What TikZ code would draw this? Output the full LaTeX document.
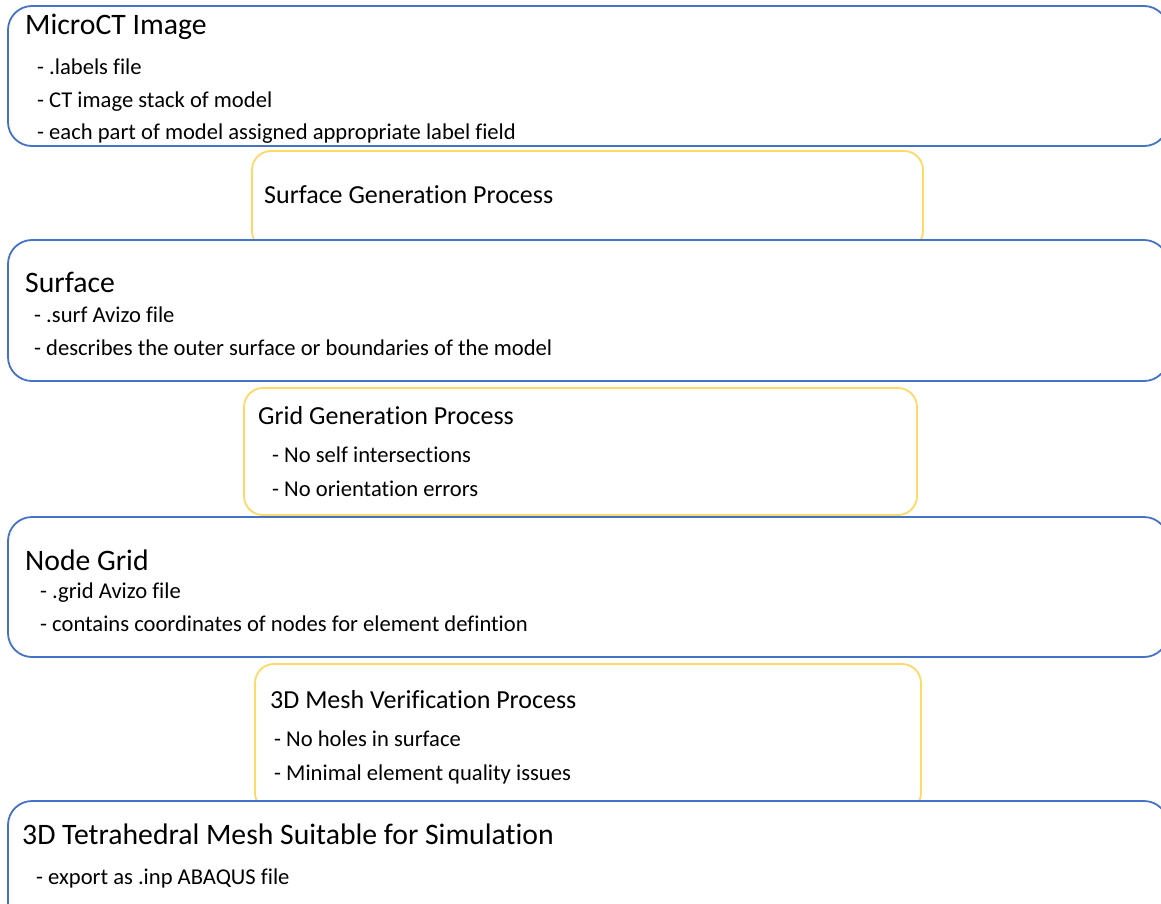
\documentclass[tikz,border=0pt]{standalone}
\usepackage{fontspec}
\setmainfont{Carlito}[Ligatures=NoCommon]
\usetikzlibrary{positioning}
\definecolor{boxblue}{HTML}{4472C4}
\definecolor{boxgold}{HTML}{FFD966}

\begin{document}
\begin{tikzpicture}[x=1pt, y=-1pt, line cap=round,
    bluebox/.style={draw=boxblue, fill=white, line width=1.8pt, rounded corners=24pt},
    goldbox/.style={draw=boxgold, fill=white, line width=1.8pt, rounded corners=19pt},
    head/.style={anchor=base west, inner sep=0pt, font=\fontsize{29.7}{34}\selectfont},
    subhead/.style={anchor=base west, inner sep=0pt, font=\fontsize{26}{30}\selectfont},
    item/.style={anchor=base west, inner sep=0pt, font=\fontsize{22.6}{26}\selectfont}]
  \useasboundingbox (0,0) rectangle (1161,903);
  \clip (0,0) rectangle (1161,903);
  % process boxes (drawn first, the stage boxes cover their lower edge)
  \draw[goldbox] (252,151) rectangle (923,250);
  \draw[goldbox] (244,388) rectangle (917,515);
  \draw[goldbox] (255,664) rectangle (921,812);
  % stage 1: microCT image
  \draw[bluebox] (8,6) rectangle (1168,146);
  \node[head] (micro) at (25,34) {MicroCT Image};
  \node[item] (microa) at (37,74) {- .labels file};
  \node[item] (microb) at (37,107) {- CT image stack of model};
  \node[item] (microc) at (37,139) {- each part of model assigned appropriate label field};
  % surface generation
  \node[subhead] (surfgen) at (264,203) {Surface Generation Process};
  % stage 2: surface
  \draw[bluebox] (8,240) rectangle (1168,381);
  \node[head] (surf) at (25,292) {Surface};
  \node[item] (surfa) at (34,322) {- .surf Avizo file};
  \node[item] (surfb) at (34,355) {- describes the outer surface or boundaries of the model};
  % grid generation
  \node[subhead] (gridgen) at (258,424) {Grid Generation Process};
  \node[item] (gridgena) at (272,462) {- No self intersections};
  \node[item] (gridgenb) at (272,496) {- No orientation errors};
  % stage 3: node grid
  \draw[bluebox] (8,517) rectangle (1168,657);
  \node[head] (grid) at (25,570) {Node Grid};
  \node[item] (grida) at (40,598) {- .grid Avizo file};
  \node[item] (gridb) at (40,631) {- contains coordinates of nodes for element defintion};
  % mesh verification
  \node[subhead] (verif) at (270,708) {3D Mesh Verification Process};
  \node[item] (verifa) at (274,746) {- No holes in surface};
  \node[item] (verifb) at (274,780) {- Minimal element quality issues};
  % stage 4: tetrahedral mesh
  \draw[bluebox] (8,801) rectangle (1168,930);
  \node[head] (mesh) at (22,844) {3D Tetrahedral Mesh Suitable for Simulation};
  \node[item] (mesha) at (36,884) {- export as .inp ABAQUS file};
\end{tikzpicture}
\end{document}
